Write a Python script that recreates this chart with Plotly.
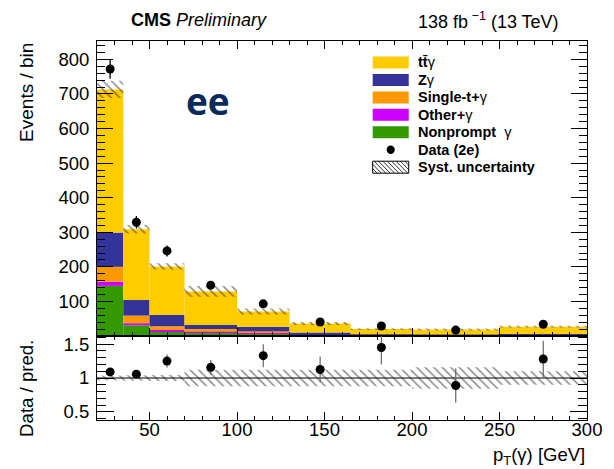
import plotly.graph_objects as go
from plotly.subplots import make_subplots

# ---------------- data ----------------
bin_edges = [20, 35, 50, 70, 100, 130, 165, 200, 250, 300]
nonprompt = [145, 31, 12, 9, 7, 3, 1.5, 1.5, 3]
other_gamma = [12, 6, 5, 3, 2, 0.5, 1, 0.5, 0.5]
single_t = [43, 22, 11, 8, 5, 1.5, 1, 1, 1]
z_gamma = [99, 45, 33, 12, 13, 5, 1.5, 1.5, 1.5]
tt_gamma = [414, 205, 140, 97, 44, 26, 15, 14.5, 21]
data_counts = [772, 329, 246, 147, 93, 40.5, 29, 17, 34]
data_err = [28, 18, 16, 12, 10, 6.5, 5.4, 4.2, 5.8]
syst_rel = [0.035, 0.04, 0.045, 0.12, 0.12, 0.12, 0.12, 0.16, 0.10]
ratio_vals = [1.09, 1.055, 1.25, 1.157, 1.33, 1.126, 1.45, 0.89, 1.28]
ratio_err = [0.04, 0.06, 0.096, 0.11, 0.17, 0.19, 0.25, 0.25, 0.27]

top_yticks = [100, 200, 300, 400, 500, 600, 700, 800]
ratio_yticks = [0.5, 1, 1.5]
ratio_yticklabels = ["0.5", "1", "1.5"]
x_ticks = [50, 100, 150, 200, 250, 300]

legend_labels = ["<b>tt\u0304</b>γ", "<b>Z</b>γ", "<b>Single-t+</b>γ", "<b>Other+</b>γ",
                 "<b>Nonprompt </b> γ", "<b>Data (2e)</b>", "<b>Syst. uncertainty</b>"]

# ---------------- derived ----------------
centers = [(a + b) / 2 for a, b in zip(bin_edges[:-1], bin_edges[1:])]
widths = [b - a for a, b in zip(bin_edges[:-1], bin_edges[1:])]

processes = [
    ("Nonprompt γ", nonprompt, "#339900"),
    ("Other+γ", other_gamma, "#CC00FF"),
    ("Single-t+γ", single_t, "#FF9900"),
    ("Zγ", z_gamma, "#333399"),
    ("ttγ", tt_gamma, "#FFCC00"),
]

W, H = 614, 469
L, R, T, B = 97, 600, 41, 420
SPLIT = 336

fig = make_subplots(rows=2, cols=1, shared_xaxes=True, vertical_spacing=0,
                    row_heights=[(SPLIT - T) / (B - T), (B - SPLIT) / (B - T)])

cum = [0.0] * len(centers)
for name, vals, col in processes:
    fig.add_trace(go.Bar(x=centers, y=vals, base=list(cum), width=widths, name=name,
                         marker=dict(color=col, line=dict(width=0)), showlegend=False),
                  row=1, col=1)
    cum = [c + v for c, v in zip(cum, vals)]
total = cum

hatch = dict(shape="\\", fgcolor="#111111", bgcolor="rgba(0,0,0,0)", size=6, solidity=0.25)

fig.add_trace(go.Bar(x=centers, y=[2 * t * r for t, r in zip(total, syst_rel)],
                     base=[t * (1 - r) for t, r in zip(total, syst_rel)], width=widths,
                     marker=dict(color="rgba(0,0,0,0)", pattern=hatch, line=dict(width=0)),
                     showlegend=False, name="Syst. uncertainty"), row=1, col=1)

fig.add_trace(go.Scatter(x=centers, y=data_counts, mode="markers", name="Data (2e)",
                         marker=dict(color="black", size=9),
                         error_y=dict(type="data", array=data_err, width=0, thickness=1.3, color="black"),
                         showlegend=False), row=1, col=1)

# ratio panel
fig.add_trace(go.Bar(x=centers, y=[2 * r for r in syst_rel], base=[1 - r for r in syst_rel],
                     width=widths,
                     marker=dict(color="rgba(0,0,0,0)", pattern=hatch, line=dict(width=0)),
                     showlegend=False), row=2, col=1)
fig.add_trace(go.Scatter(x=centers, y=ratio_vals, mode="markers",
                         marker=dict(color="black", size=9),
                         error_y=dict(type="data", array=ratio_err, width=0, thickness=1.2, color="#666666"),
                         showlegend=False), row=2, col=1)

font = "Liberation Sans, Arial, Helvetica, sans-serif"
axis_common = dict(showline=True, linecolor="black", linewidth=1, mirror="allticks",
                   ticks="inside", tickcolor="black", showgrid=False, zeroline=False,
                   tickfont=dict(family=font, size=18.5, color="black"))

fig.update_xaxes(**axis_common, range=[20, 300], tickmode="array", tickvals=x_ticks,
                 ticklen=8, tickwidth=1, ticklabelstandoff=-7, ticklabeloverflow="allow",
                 minor=dict(dtick=10, tick0=0, ticklen=4, ticks="inside", tickcolor="black"))
fig.update_xaxes(showticklabels=False, row=1, col=1)
fig.update_yaxes(**axis_common, row=1, col=1, range=[0, 853], tickmode="array",
                 tickvals=top_yticks, ticklen=16, ticklabelstandoff=3,
                 minor=dict(dtick=20, tick0=0, ticklen=8, ticks="inside", tickcolor="black"))
fig.update_yaxes(**axis_common, row=2, col=1, range=[0.38, 1.62], tickmode="array",
                 tickvals=ratio_yticks, ticktext=ratio_yticklabels, ticklen=17,
                 ticklabelstandoff=3,
                 minor=dict(dtick=0.1, tick0=0, ticklen=9, ticks="inside", tickcolor="black"))


def px(x):
    return (x - L) / (R - L)


def py(y):
    return (B - y) / (B - T)


shapes = [dict(type="line", xref="x2 domain", x0=0, x1=1, yref="y2", y0=1, y1=1,
               line=dict(color="#555555", width=1.5), layer="below")]

ann = []
ann.append(dict(x=px(130), y=py(20), xref="paper", yref="paper", xanchor="left", yanchor="middle",
                text="<b>CMS</b> <i>Preliminary</i>", showarrow=False,
                font=dict(family=font, size=18, color="black")))
ann.append(dict(x=px(573), y=py(20), xref="paper", yref="paper", xanchor="right", yanchor="middle",
                text="138 fb<sup> \u22121</sup> (13 TeV)", showarrow=False,
                font=dict(family=font, size=18, color="black")))
ann.append(dict(x=px(211), y=py(100), xref="paper", yref="paper", xanchor="center", yanchor="middle",
                text="<b>ee</b>", showarrow=False,
                font=dict(family="Open Sans", size=37, color="#0B2A5B")))
ann.append(dict(x=px(24), y=py(92), xref="paper", yref="paper", xanchor="center", yanchor="middle",
                text="Events / bin", textangle=-90, showarrow=False,
                font=dict(family=font, size=19, color="black")))
ann.append(dict(x=px(24), y=py(388), xref="paper", yref="paper", xanchor="center", yanchor="middle",
                text="Data / pred.", textangle=-90, showarrow=False,
                font=dict(family=font, size=18.6, color="black")))
ann.append(dict(x=px(600), y=py(456), xref="paper", yref="paper", xanchor="right", yanchor="middle",
                text="p<sub>T</sub>(γ) [GeV]", showarrow=False,
                font=dict(family=font, size=18.5, color="black")))

# custom legend (decoration in paper coordinates)
sx0, sx1 = 380, 417
row_y0, row_dy = 62.5, 17.45
legend_colors = [p[2] for p in processes[::-1]]
for i, lab in enumerate(legend_labels):
    yc = row_y0 + i * row_dy
    if i < 5:
        shapes.append(dict(type="rect", xref="paper", yref="paper", x0=px(sx0), x1=px(sx1),
                           y0=py(yc + 6), y1=py(yc - 6), fillcolor=legend_colors[i],
                           line=dict(width=0), layer="above"))
    elif i == 5:
        xc = (sx0 + sx1) / 2
        shapes.append(dict(type="circle", xref="paper", yref="paper", x0=px(xc - 4.2), x1=px(xc + 4.2),
                           y0=py(yc + 4.2), y1=py(yc - 4.2), fillcolor="black", line=dict(width=0),
                           layer="above"))
    else:
        top, bot = yc - 6, yc + 6
        shapes.append(dict(type="rect", xref="paper", yref="paper", x0=px(sx0), x1=px(sx1),
                           y0=py(bot), y1=py(top), fillcolor="rgba(0,0,0,0)",
                           line=dict(color="black", width=1), layer="above"))
        hgt = bot - top
        s = sx0 - hgt
        while s < sx1:
            xa, ya = s, top
            xb, yb = s + hgt, bot
            if xa < sx0:
                ya = top + (sx0 - xa)
                xa = sx0
            if xb > sx1:
                yb = bot - (xb - sx1)
                xb = sx1
            if xb > xa:
                shapes.append(dict(type="line", xref="paper", yref="paper", x0=px(xa), x1=px(xb),
                                   y0=py(ya), y1=py(yb), line=dict(color="black", width=0.8),
                                   layer="above"))
            s += 4.5
    ann.append(dict(x=px(424), y=py(yc), xref="paper", yref="paper", xanchor="left", yanchor="middle",
                    text=lab, showarrow=False, font=dict(family=font, size=14.5, color="black")))

fig.update_layout(width=W, height=H, margin=dict(l=L, r=W - R, t=T, b=H - B),
                  paper_bgcolor="white", plot_bgcolor="white", barmode="overlay",
                  showlegend=False, annotations=ann, shapes=shapes,
                  font=dict(family=font, color="black"))

fig.write_html("out.html")
